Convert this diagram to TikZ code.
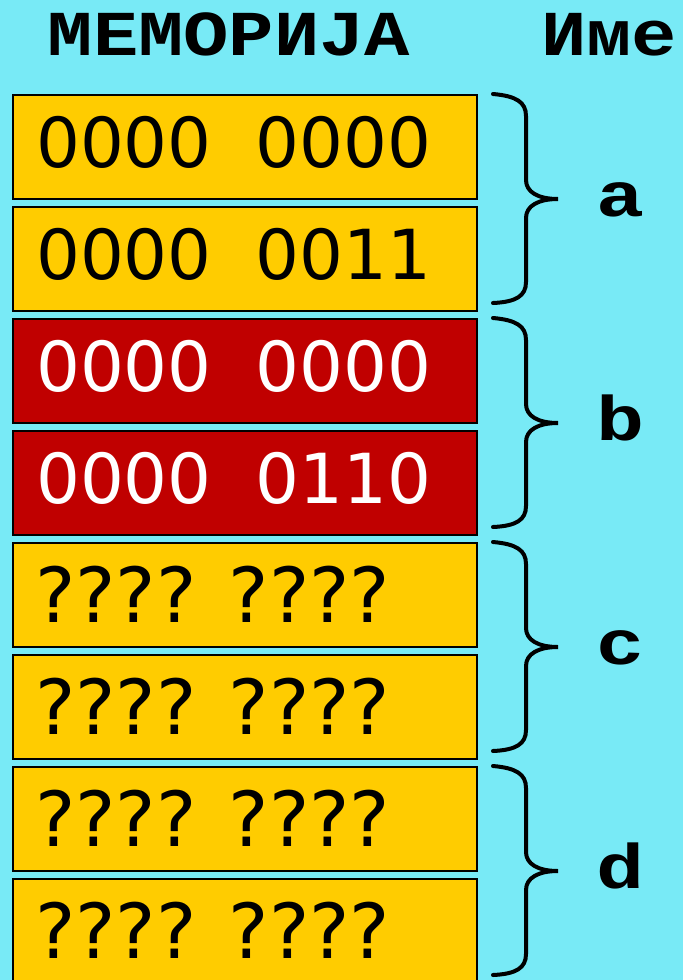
\documentclass[tikz,border=0pt]{standalone}
\usepackage{fontspec}
\setmainfont{DejaVu Sans}
\newfontfamily\monob{Liberation Mono Bold}[FakeStretch=1.27]
\newfontfamily\monohead{Liberation Mono Bold}[FakeStretch=1.18]
\definecolor{bgcyan}{RGB}{120,234,246}
\definecolor{cellyel}{RGB}{255,204,0}
\definecolor{cellred}{RGB}{192,0,0}
\tikzset{
  cell/.style={draw=black, line width=2pt},
  bits/.style={anchor=base west, inner sep=0pt, font=\fontsize{69}{69}\selectfont},
  qbits/.style={anchor=base west, inner sep=0pt, font=\fontsize{76}{76}\selectfont},
  head/.style={anchor=base, inner sep=0pt, font=\fontsize{64}{64}\selectfont\monohead},
  varname/.style={anchor=base, inner sep=0pt, font=\fontsize{63}{63}\selectfont\monob},
  brace/.style={draw=black, line width=4pt, line cap=round}
}
\begin{document}
\begin{tikzpicture}[x=1pt,y=-1pt]
\fill[bgcyan] (0,0) rectangle (683,980);
\useasboundingbox (0,0) rectangle (683,980);
% header
\node[head] (hmem) at (229,55) {МЕМОРИЈА};
\node[head] (hime) at (609,55) {Име};
% cells
\foreach \i/\col in {0/cellyel,1/cellyel,2/cellred,3/cellred,4/cellyel,5/cellyel,6/cellyel,7/cellyel}{
  \path[cell, fill=\col] (13,95+112*\i) rectangle (477,199+112*\i);
}
\node[bits] (t0) at (36,167) {0000\ \ 0000};
\node[bits] (t1) at (36,279) {0000\ \ 0011};
\node[bits, text=white] (t2) at (36,391) {0000\ \ 0000};
\node[bits, text=white] (t3) at (36,503) {0000\ \ 0110};
\node[qbits] (t4) at (35,622) {???? ????};
\node[qbits] (t5) at (35,734) {???? ????};
\node[qbits] (t6) at (35,846) {???? ????};
\node[qbits] (t7) at (35,958) {???? ????};
% braces
\foreach \j/\lab in {0/a,1/b,2/c,3/d}{
  \begin{scope}[yshift=-224*\j]
    \draw[brace] (493,94) .. controls (516,96) and (526,102) .. (526,116)
      -- (526,180) .. controls (526,192) and (538,199) .. (558,199)
      .. controls (538,199) and (526,206) .. (526,218)
      -- (526,282) .. controls (526,296) and (516,302) .. (493,303);
    \node[varname] (v\lab) at (621,216) {\lab};
  \end{scope}
}
\end{tikzpicture}
\end{document}
